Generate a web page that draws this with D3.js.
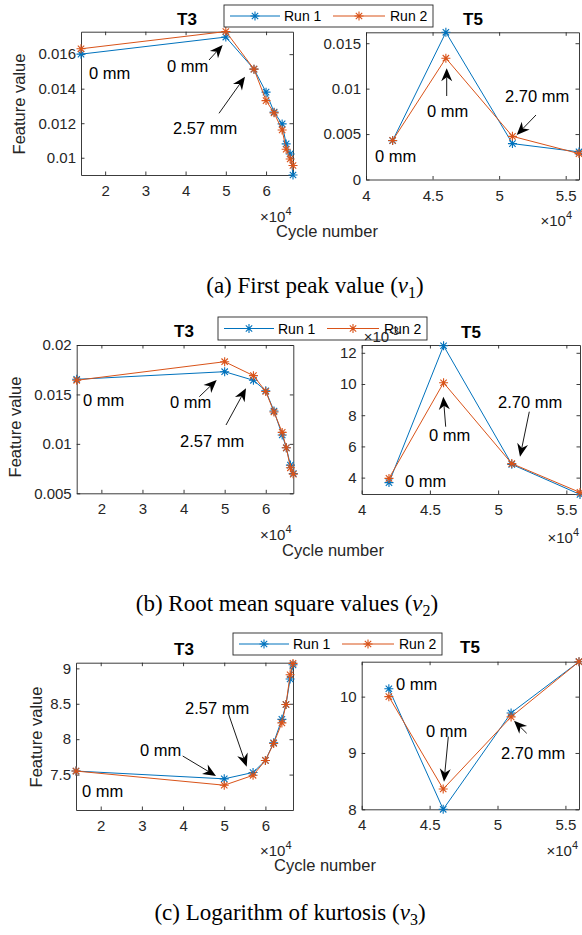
<!DOCTYPE html>
<html><head><meta charset="utf-8">
<script src="https://cdn.jsdelivr.net/npm/d3@7"></script>
<style>body{margin:0;background:#fff}svg{display:block}</style>
</head><body><svg id="c" width="582" height="935"></svg>
<script>
// ---------------- data ----------------
const seriesNames = ["Run 1", "Run 2"];
const cyclesT3 = [14000, 50000, 57000, 60000, 62000, 64000, 65000, 66000, 66700];
const cyclesT5 = [42000, 46000, 51000, 56000];

// (a) first peak value v1
const v1T3Run1 = [0.01600, 0.01699, 0.01513, 0.01380, 0.01264, 0.01196, 0.01080, 0.01022, 0.00900];
const v1T3Run2 = [0.01631, 0.01731, 0.01513, 0.01331, 0.01260, 0.01161, 0.01049, 0.00993, 0.00955];
const v1T5Run1 = [0.00428, 0.01620, 0.00395, 0.00304];
const v1T5Run2 = [0.00430, 0.01335, 0.00475, 0.00285];

// (b) root mean square v2
const v2T3Run1 = [0.01653, 0.01730, 0.01643, 0.01537, 0.01332, 0.01090, 0.00960, 0.00785, 0.00700];
const v2T3Run2 = [0.01643, 0.01831, 0.01690, 0.01530, 0.01322, 0.01116, 0.00960, 0.00758, 0.00694];
const v2T5Run1 = [0.00368, 0.01245, 0.00485, 0.00292];
const v2T5Run2 = [0.00395, 0.01008, 0.00490, 0.00305];

// (c) logarithm of kurtosis v3
const v3T3Run1 = [7.55, 7.44, 7.53, 7.70, 7.95, 8.28, 8.49, 8.85, 9.05];
const v3T3Run2 = [7.55, 7.35, 7.49, 7.70, 7.94, 8.23, 8.49, 8.91, 9.07];
const v3T5Run1 = [10.14, 8.00, 9.71, 10.62];
const v3T5Run2 = [10.00, 8.36, 9.64, 10.62];

// ticks
const xTicksT3 = [20000, 30000, 40000, 50000, 60000];
const xTicksT5 = [40000, 45000, 50000, 55000];
const yTicksV1T3 = [0.010, 0.012, 0.014, 0.016];
const yTickLabelsV1T3 = ["0.01", "0.012", "0.014", "0.016"];
const yTicksV1T5 = [0, 0.005, 0.010, 0.015];
const yTickLabelsV1T5 = ["0", "0.005", "0.01", "0.015"];
const yTicksV2T3 = [0.005, 0.010, 0.015, 0.020];
const yTickLabelsV2T3 = ["0.005", "0.01", "0.015", "0.02"];
const yTicksV2T5 = [0.004, 0.006, 0.008, 0.010, 0.012];
const yTickLabelsV2T5 = ["4", "6", "8", "10", "12"];
const yTicksV3T3 = [7.5, 8, 8.5, 9];
const yTickLabelsV3T3 = ["7.5", "8", "8.5", "9"];
const yTicksV3T5 = [8, 9, 10];
const yTickLabelsV3T5 = ["8", "9", "10"];

const captions = [
  {pre: "(a) First peak value (", sub: "1"},
  {pre: "(b) Root mean square values (", sub: "2"},
  {pre: "(c) Logarithm of kurtosis (", sub: "3"}
];
const annotationTexts = ["0 mm", "2.57 mm", "2.70 mm"];

// ---------------- layout / style ----------------
const COLORS = ["#0072BD", "#D95319"];
const AX = "#262626";
const SANS = "'Liberation Sans', Arial, Helvetica, sans-serif";
const SERIF = "'Liberation Serif', 'Times New Roman', serif";

const panels = [
  {title: "T3", xs: cyclesT3, ys: [v1T3Run1, v1T3Run2], xDom: [14000, 66700], yDom: [0.009, 0.0173],
   xt: xTicksT3, yt: yTicksV1T3, ytl: yTickLabelsV1T3, l: 81, r: 293, t: 31.7, b: 175, titleX: 187, titleY: 25,
   expX: 291.5, expY: 221.5},
  {title: "T5", xs: cyclesT5, ys: [v1T5Run1, v1T5Run2], xDom: [40000, 56000], yDom: [0, 0.0162],
   xt: xTicksT5, yt: yTicksV1T5, ytl: yTickLabelsV1T5, l: 366, r: 579, t: 32.3, b: 179.5, titleX: 473, titleY: 25,
   expX: 572, expY: 225.5},
  {title: "T3", xs: cyclesT3, ys: [v2T3Run1, v2T3Run2], xDom: [14000, 66700], yDom: [0.005, 0.02],
   xt: xTicksT3, yt: yTicksV2T3, ytl: yTickLabelsV2T3, l: 76.7, r: 293.3, t: 345, b: 493.3, titleX: 184, titleY: 337,
   expX: 291.5, expY: 540},
  {title: "T5", xs: cyclesT5, ys: [v2T5Run1, v2T5Run2], xDom: [40000, 56000], yDom: [0.00295, 0.0125],
   xt: xTicksT5, yt: yTicksV2T5, ytl: yTickLabelsV2T5, l: 361.7, r: 580, t: 345, b: 494, titleX: 471, titleY: 338,
   expX: 579, expY: 543, yExp: "-3"},
  {title: "T3", xs: cyclesT3, ys: [v3T3Run1, v3T3Run2], xDom: [14000, 66700], yDom: [7.0, 9.08],
   xt: xTicksT3, yt: yTicksV3T3, ytl: yTickLabelsV3T3, l: 76, r: 293, t: 662.7, b: 810, titleX: 184, titleY: 655,
   expX: 291.5, expY: 856},
  {title: "T5", xs: cyclesT5, ys: [v3T5Run1, v3T5Run2], xDom: [40000, 56000], yDom: [8, 10.62],
   xt: xTicksT5, yt: yTicksV3T5, ytl: yTickLabelsV3T5, l: 361.7, r: 579, t: 661.7, b: 809.3, titleX: 470, titleY: 653,
   expX: 578, expY: 856}
];

const rows = [
  {ylabX: 25, ylabY: 104, xlabX: 327, xlabY: 237, legX: 224, legY: 5, legH: 22, capX: 315, capY: 293},
  {ylabX: 21, ylabY: 427, xlabX: 333, xlabY: 556, legX: 218, legY: 317, legH: 23, capX: 287, capY: 611},
  {ylabX: 41.5, ylabY: 737, xlabX: 325, xlabY: 871, legX: 233, legY: 633, legH: 22, capX: 290, capY: 920}
];

// annotations (figure pixel units, like MATLAB figure annotations)
const labels = [
  {t: 0, x: 89, y: 79}, {t: 0, x: 167, y: 72}, {t: 1, x: 173, y: 134},
  {t: 0, x: 427, y: 117}, {t: 2, x: 505, y: 102}, {t: 0, x: 375, y: 162},
  {t: 0, x: 83, y: 406}, {t: 0, x: 170, y: 408}, {t: 1, x: 180, y: 447},
  {t: 0, x: 429, y: 441}, {t: 2, x: 498, y: 408}, {t: 0, x: 405, y: 487},
  {t: 1, x: 185, y: 714}, {t: 0, x: 140, y: 756}, {t: 0, x: 82, y: 797},
  {t: 0, x: 396, y: 690}, {t: 0, x: 426, y: 737}, {t: 2, x: 501, y: 759}
];
const arrows = [
  [209, 60, 222.7, 45], [219, 113.3, 245, 76.7], [446.7, 96, 446.7, 68.3], [536, 115, 516.7, 135],
  [199.3, 396.7, 216.7, 380], [226, 425, 246, 388.3], [445.7, 426.7, 443.3, 396.7], [529.3, 411.7, 520, 456.7],
  [228.3, 713.3, 246.7, 766.7], [182.7, 756, 216, 776], [448.3, 736.7, 444, 781.7], [526.7, 733.3, 514, 720.7]
];

// ---------------- drawing ----------------
const svg = d3.select("#c");
svg.append("rect").attr("width", 582).attr("height", 935).attr("fill", "#fff");

const starPath = "M-4.5,0H4.5M0,-4.5V4.5M-3.2,-3.2L3.2,3.2M-3.2,3.2L3.2,-3.2";

function styleAxis(g, showText) {
  g.attr("font-family", SANS).attr("font-size", 15);
  g.select(".domain").attr("stroke", AX).attr("stroke-width", 0.9);
  g.selectAll(".tick line").attr("stroke", AX).attr("stroke-width", 0.9);
  g.selectAll(".tick text").attr("fill", AX);
  if (!showText) g.selectAll(".tick text").remove();
}

function drawExp(parent, xx, yy, anchor, exp) {
  const t = parent.append("text").attr("x", xx).attr("y", yy).attr("text-anchor", anchor)
    .attr("font-family", SANS).attr("font-size", 15).attr("fill", AX);
  t.append("tspan").text("\u00d710");
  t.append("tspan").attr("dy", -7).attr("font-size", 11).text(exp);
}

panels.forEach(p => {
  const x = d3.scaleLinear().domain(p.xDom).range([p.l, p.r]);
  const y = d3.scaleLinear().domain(p.yDom).range([p.b, p.t]);
  const g = svg.append("g");
  const fmtX = d => String(+(d / 1e4).toFixed(1));
  const yl = d => p.ytl[p.yt.indexOf(d)];

  g.append("g").attr("transform", `translate(0,${p.b})`)
    .call(d3.axisBottom(x).tickValues(p.xt).tickFormat(fmtX).tickSizeInner(-3.5).tickSizeOuter(0).tickPadding(10.5))
    .call(s => styleAxis(s, true));
  g.append("g").attr("transform", `translate(0,${p.t})`)
    .call(d3.axisTop(x).tickValues(p.xt).tickSizeInner(-3.5).tickSizeOuter(0))
    .call(s => styleAxis(s, false));
  g.append("g").attr("transform", `translate(${p.l},0)`)
    .call(d3.axisLeft(y).tickValues(p.yt).tickFormat(yl).tickSizeInner(-3.5).tickSizeOuter(0).tickPadding(5))
    .call(s => styleAxis(s, true));
  g.append("g").attr("transform", `translate(${p.r},0)`)
    .call(d3.axisRight(y).tickValues(p.yt).tickSizeInner(-3.5).tickSizeOuter(0))
    .call(s => styleAxis(s, false));

  g.append("text").attr("x", p.titleX).attr("y", p.titleY).attr("text-anchor", "middle")
    .attr("font-family", SANS).attr("font-size", 17).attr("font-weight", "bold").attr("fill", "#000").text(p.title);

  drawExp(g, p.expX, p.expY, "end", "4");

  const line = d3.line().x((d, i) => x(p.xs[i])).y(d => y(d));
  p.ys.forEach((vals, si) => {
    g.append("path").datum(vals).attr("d", line).attr("fill", "none")
      .attr("stroke", COLORS[si]).attr("stroke-width", 1);
    g.selectAll(null).data(vals).enter().append("path")
      .attr("transform", (d, i) => `translate(${x(p.xs[i])},${y(d)})`)
      .attr("d", starPath).attr("fill", "none").attr("stroke", COLORS[si]).attr("stroke-width", 1.1);
  });
});

rows.forEach((rw, ri) => {
  svg.append("text").attr("transform", `translate(${rw.ylabX},${rw.ylabY}) rotate(-90)`)
    .attr("text-anchor", "middle").attr("font-family", SANS).attr("font-size", 16.5).attr("fill", AX)
    .text("Feature value");
  svg.append("text").attr("x", rw.xlabX).attr("y", rw.xlabY).attr("text-anchor", "middle")
    .attr("font-family", SANS).attr("font-size", 16.5).attr("fill", AX).text("Cycle number");

  const lg = svg.append("g").attr("transform", `translate(${rw.legX},${rw.legY})`);
  lg.append("rect").attr("x", 0).attr("y", 0).attr("width", 209).attr("height", rw.legH)
    .attr("fill", "#fff").attr("stroke", AX).attr("stroke-width", 0.9);
  const cy = rw.legH / 2;
  const items = [{x0: 6, x1: 56, tx: 60}, {x0: 109, x1: 161, tx: 166}];
  seriesNames.forEach((nm, si) => {
    const it = items[si];
    lg.append("line").attr("x1", it.x0).attr("x2", it.x1).attr("y1", cy).attr("y2", cy)
      .attr("stroke", COLORS[si]).attr("stroke-width", 1);
    lg.append("path").attr("transform", `translate(${(it.x0 + it.x1) / 2},${cy})`).attr("d", starPath)
      .attr("fill", "none").attr("stroke", COLORS[si]).attr("stroke-width", 1.1);
    lg.append("text").attr("x", it.tx).attr("y", cy + 5).attr("font-family", SANS).attr("font-size", 14)
      .attr("fill", "#000").text(nm);
  });

  const c = captions[ri];
  const ct = svg.append("text").attr("x", rw.capX).attr("y", rw.capY).attr("text-anchor", "middle")
    .attr("font-family", SERIF).attr("font-size", 23).attr("fill", "#000");
  ct.append("tspan").text(c.pre);
  ct.append("tspan").attr("font-style", "italic").text("v");
  ct.append("tspan").attr("dy", 5).attr("font-size", 16).text(c.sub);
  ct.append("tspan").attr("dy", -5).text(")");
});

// y exponent of (b) T5 drawn on top of the legend, as in the original
panels.filter(p => p.yExp).forEach(p => drawExp(svg, p.l + 2, p.t - 3, "start", p.yExp));

labels.forEach(a => {
  svg.append("text").attr("x", a.x).attr("y", a.y).attr("font-family", SANS).attr("font-size", 16.5)
    .attr("fill", "#000").text(annotationTexts[a.t]);
});

arrows.forEach(([x1, y1, x2, y2]) => {
  const dx = x2 - x1, dy = y2 - y1, len = Math.hypot(dx, dy);
  const ux = dx / len, uy = dy / len, nx = -uy, ny = ux;
  const L = 13, W = 5.5, N = 9;
  const bx = x2 - ux * L, by = y2 - uy * L;
  const nbx = x2 - ux * N, nby = y2 - uy * N;
  svg.append("line").attr("x1", x1).attr("y1", y1).attr("x2", nbx).attr("y2", nby)
    .attr("stroke", "#000").attr("stroke-width", 0.9);
  svg.append("path")
    .attr("d", `M${x2},${y2}L${bx + nx * W},${by + ny * W}L${nbx},${nby}L${bx - nx * W},${by - ny * W}Z`)
    .attr("fill", "#000");
});
</script>
</body></html>
